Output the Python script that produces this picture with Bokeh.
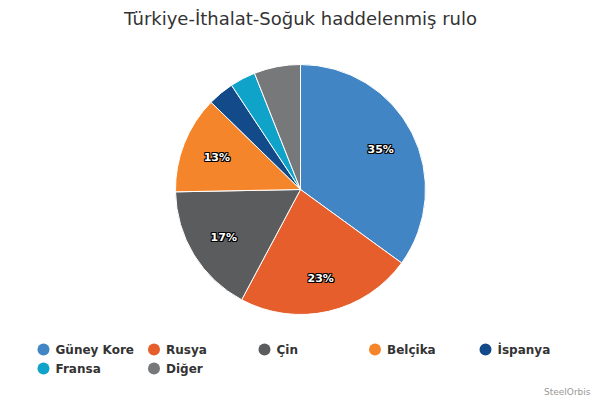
import math
from bokeh.plotting import figure
from bokeh.models import ColumnDataSource, Range1d
from bokeh.core.properties import value
from bokeh.embed import file_html
from bokeh.resources import INLINE

title_text = "Türkiye-İthalat-Soğuk haddelenmiş rulo"
countries = ["Güney Kore", "Rusya", "Çin", "Belçika", "İspanya", "Fransa", "Diğer"]
shares = [35.0, 22.8, 16.9, 12.6, 3.4, 3.3, 6.0]
colors = ["#4285c4", "#e65e2b", "#5b5c5e", "#f5852a", "#134b8a", "#0fa3c9", "#77787a"]
credit = "SteelOrbis"

W, H = 600, 400
FONT = "DejaVu Sans"

def px(X):  # reference x -> data x
    return X

def py(Y):  # reference y -> data y
    return H - Y

p = figure(width=W, height=H, output_backend="svg", toolbar_location=None,
           x_range=Range1d(0, W), y_range=Range1d(0, H),
           min_border=0, outline_line_color=None)
p.axis.visible = False
p.xgrid.visible = False
p.ygrid.visible = False
p.background_fill_color = "white"
p.border_fill_color = "white"

# pie
cx, cy, r = px(300), py(189), 125
total = sum(shares)
starts, ends, mids = [], [], []
acc = 0.0
for v in shares:
    a = acc / total
    b = (acc + v) / total
    starts.append(math.pi / 2 - 2 * math.pi * b)
    ends.append(math.pi / 2 - 2 * math.pi * a)
    mids.append((a + b) / 2)
    acc += v

src = ColumnDataSource(dict(start=starts, end=ends, color=colors))
p.wedge(x=cx, y=cy, radius=r, start_angle="start", end_angle="end",
        fill_color="color", line_color="white", line_width=1, source=src)

# data labels (white with dark outline)
R = 90
lx, ly, lt = [], [], []
for v, m in zip(shares, mids):
    if v >= 10:
        th = 2 * math.pi * m
        lx.append(cx + R * math.sin(th))
        ly.append(cy + R * math.cos(th) - 1)
        lt.append(f"{round(v)}%")
lsrc = ColumnDataSource(dict(x=lx, y=ly, t=lt))
for dx, dy in [(-1, -1), (-1, 0), (-1, 1), (0, -1), (0, 1), (1, -1), (1, 0), (1, 1)]:
    p.text(x="x", y="y", text="t", source=lsrc, text_font=value(FONT),
           text_font_size="11px", text_font_style="bold", text_color="#000000",
           text_align="center", text_baseline="middle", x_offset=dx, y_offset=dy)
p.text(x="x", y="y", text="t", source=lsrc, text_font=value(FONT),
       text_font_size="11px", text_font_style="bold", text_color="white",
       text_align="center", text_baseline="middle")

# title
p.text(x=[px(300)], y=[py(18)], text=[title_text], text_font=value(FONT),
       text_font_size="18px", text_color="#333333",
       text_align="center", text_baseline="middle")

# legend (manual, 5 columns)
col_x = [43, 153.5, 264, 374.5, 485]
row_y = [349, 368]
mx, my, tx, ty = [], [], [], []
for i, name in enumerate(countries):
    c, rr = i % 5, i // 5
    mx.append(px(col_x[c]))
    my.append(py(row_y[rr]))
    tx.append(px(col_x[c] + 12))
    ty.append(py(row_y[rr]))
p.scatter(x=mx, y=my, size=12, marker="circle", fill_color=colors, line_color=None)
p.text(x=tx, y=ty, text=countries, text_font=value(FONT), text_font_size="12px",
       text_font_style="bold", text_color="#333333",
       text_align="left", text_baseline="middle")

# credit
p.text(x=[px(590)], y=[py(391)], text=[credit], text_font=value(FONT),
       text_font_size="9px", text_color="#999999",
       text_align="right", text_baseline="middle")

open("out.html", "w").write(file_html(p, INLINE))
